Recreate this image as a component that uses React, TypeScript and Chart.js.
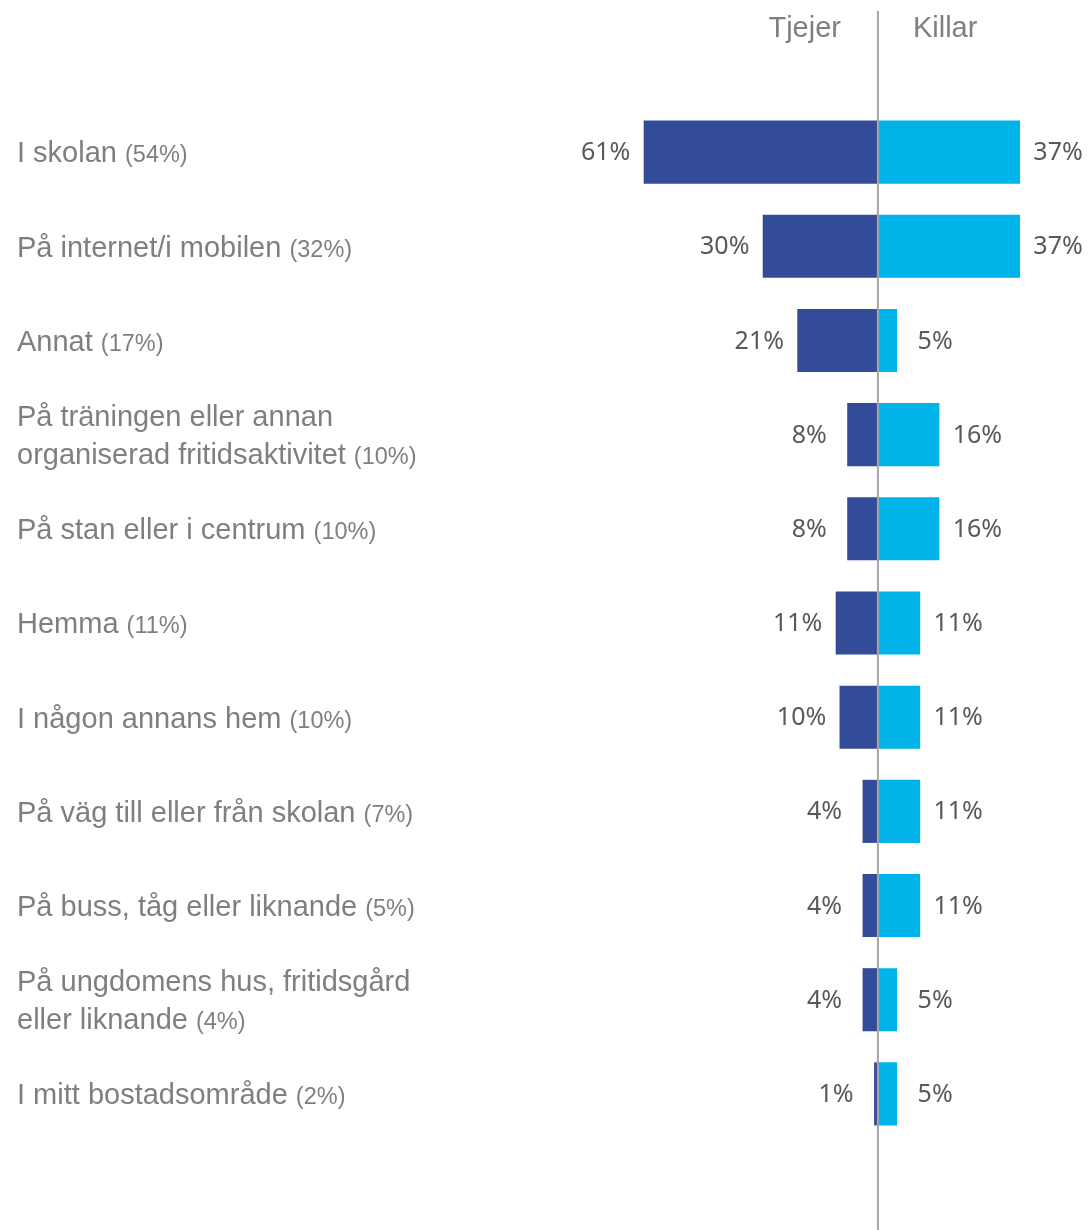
import React, { useEffect, useRef } from "react";
import { Chart, registerables } from "chart.js";

Chart.register(...registerables);

const categoryLines: string[][] = [
  ["I skolan"],
  ["På internet/i mobilen"],
  ["Annat"],
  ["På träningen eller annan", "organiserad fritidsaktivitet"],
  ["På stan eller i centrum"],
  ["Hemma"],
  ["I någon annans hem"],
  ["På väg till eller från skolan"],
  ["På buss, tåg eller liknande"],
  ["På ungdomens hus, fritidsgård", "eller liknande"],
  ["I mitt bostadsområde"],
];
const totals: number[] = [54, 32, 17, 10, 10, 11, 10, 7, 5, 4, 2];
const tjejer: number[] = [61, 30, 21, 8, 8, 11, 10, 4, 4, 4, 1];
const killar: number[] = [37, 37, 5, 16, 16, 11, 11, 11, 11, 5, 5];
const seriesNames: string[] = ["Tjejer", "Killar"];

const W = 1088;
const H = 1230;

export default function App() {
  const ref = useRef<HTMLCanvasElement | null>(null);
  useEffect(() => {
    if (!ref.current) return;
    const labelPlugin = {
      id: "labels",
      afterDatasetsDraw(chart: any) {
        const ctx = chart.ctx as CanvasRenderingContext2D;
        const xs = chart.scales.x;
        const ys = chart.scales.y;
        const x0 = xs.getPixelForValue(0);
        ctx.save();
        // center line
        ctx.strokeStyle = "#A6A6A6";
        ctx.lineWidth = 2;
        ctx.beginPath();
        ctx.moveTo(x0, 11);
        ctx.lineTo(x0, H);
        ctx.stroke();

        // headers
        ctx.fillStyle = "#7F7F7F";
        ctx.font = "29px 'Liberation Sans', Arial, sans-serif";
        ctx.textBaseline = "alphabetic";
        ctx.textAlign = "right";
        ctx.fillText(seriesNames[0], x0 - 37, 37);
        ctx.textAlign = "left";
        ctx.fillText(seriesNames[1], x0 + 35, 37);

        const mainFont = "29px 'Liberation Sans', Arial, sans-serif";
        const smallFont = "23.5px 'Liberation Sans', Arial, sans-serif";
        const lineH = 38;
        const cap = 0.716 * 29;
        categoryLines.forEach((lines, i) => {
          const cy = ys.getPixelForValue(i);
          const n = lines.length;
          lines.forEach((ln, j) => {
            const yc = cy + (j - (n - 1) / 2) * lineH;
            const base = yc + cap / 2;
            ctx.textAlign = "left";
            ctx.font = mainFont;
            ctx.fillStyle = "#7F7F7F";
            ctx.fillText(ln, 17, base);
            if (j === n - 1) {
              const w = ctx.measureText(ln + " ").width;
              ctx.font = smallFont;
              ctx.fillText("(" + totals[i] + "%)", 17 + w, base);
            }
          });
          // value labels
          ctx.font = "25px 'Noto Sans', 'Open Sans', sans-serif";
          ctx.fillStyle = "#595959";
          ctx.textAlign = "center";
          ctx.textBaseline = "middle";
          const xl = xs.getPixelForValue(-tjejer[i]);
          const xr = xs.getPixelForValue(killar[i]);
          ctx.fillText(tjejer[i] + "%", xl - 38, cy + 1);
          ctx.fillText(killar[i] + "%", xr + 38, cy + 1);
          ctx.textBaseline = "alphabetic";
        });
        ctx.restore();
      },
    };

    const chart = new Chart(ref.current, {
      type: "bar",
      data: {
        labels: categoryLines.map((l) => l.join(" ")),
        datasets: [
          {
            label: seriesNames[0],
            data: tjejer.map((v) => -v),
            backgroundColor: "#334C99",
            borderWidth: 0,
            barPercentage: 0.67,
            categoryPercentage: 1,
          },
          {
            label: seriesNames[1],
            data: killar,
            backgroundColor: "#00B4EA",
            borderWidth: 0,
            barPercentage: 0.67,
            categoryPercentage: 1,
          },
        ],
      },
      options: {
        indexAxis: "y",
        responsive: false,
        animation: false,
        layout: { padding: { left: 0, right: 0, top: 105, bottom: 89 } },
        plugins: {
          legend: { display: false },
          tooltip: { enabled: false },
        },
        scales: {
          x: { display: false, stacked: true, min: -228.6, max: 54.7 },
          y: { display: false, stacked: true },
        },
      },
      plugins: [labelPlugin],
    } as any);
    return () => chart.destroy();
  }, []);
  return (
    <div style={{ position: "absolute", left: 0, top: 0, width: W, height: H, background: "#fff" }}>
      <canvas ref={ref} width={W} height={H} style={{ display: "block", width: W, height: H }} />
    </div>
  );
}
